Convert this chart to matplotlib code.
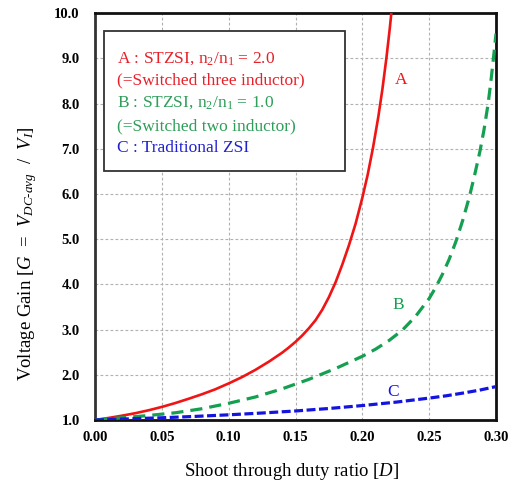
import matplotlib
matplotlib.use("Agg")
import matplotlib.pyplot as plt
from matplotlib.ticker import MultipleLocator, FormatStrFormatter

plt.rcParams['font.family'] = ['Liberation Serif', 'DejaVu Serif']
plt.rcParams['mathtext.fontset'] = 'custom'
plt.rcParams['mathtext.rm'] = 'Liberation Serif'
plt.rcParams['mathtext.it'] = 'Liberation Serif:italic'
plt.rcParams['mathtext.bf'] = 'Liberation Serif:bold'

# values
dA = [0.0, 0.01, 0.02, 0.03, 0.04, 0.05, 0.06, 0.07, 0.08, 0.09, 0.10, 0.11,
      0.12, 0.13, 0.14, 0.145, 0.15, 0.155, 0.16, 0.165, 0.17, 0.175, 0.18,
      0.185, 0.19, 0.195, 0.20, 0.204, 0.208, 0.212, 0.215, 0.218, 0.2205, 0.2222]
gA = [1.0, 1.045, 1.095, 1.15, 1.215, 1.29, 1.375, 1.47, 1.57, 1.68, 1.81, 1.95,
      2.11, 2.29, 2.49, 2.605, 2.73, 2.87, 3.03, 3.21, 3.44, 3.72, 4.05,
      4.44, 4.87, 5.35, 5.92, 6.43, 7.03, 7.72, 8.32, 9.01, 9.66, 10.15]

dB = [0.0, 0.02, 0.04, 0.06, 0.08, 0.10, 0.12, 0.14, 0.16, 0.18, 0.20, 0.21,
      0.22, 0.23, 0.24, 0.25, 0.255, 0.26, 0.265, 0.27, 0.275, 0.28, 0.284,
      0.288, 0.291, 0.294, 0.296, 0.298, 0.30]
gB = [1.0, 1.05, 1.10, 1.16, 1.25, 1.37, 1.51, 1.69, 1.90, 2.14, 2.41, 2.57,
      2.76, 2.99, 3.30, 3.69, 3.94, 4.23, 4.56, 4.95, 5.41, 5.93, 6.42,
      6.95, 7.42, 7.98, 8.45, 8.98, 9.55]

dC = [0.0, 0.025, 0.05, 0.075, 0.10, 0.125, 0.15, 0.175, 0.20, 0.225, 0.25, 0.2625,
      0.275, 0.2875, 0.30]
gC = [1.0, 1.025, 1.05, 1.08, 1.115, 1.155, 1.2, 1.255, 1.32, 1.395, 1.485, 1.535,
      1.595, 1.66, 1.74]

legend_lines = [r"A : STZSI, n$_2$/n$_1$ = 2.0",
                "(=Switched three inductor)",
                r"B : STZSI, n$_2$/n$_1$ = 1.0",
                "(=Switched two inductor)",
                "C : Traditional ZSI"]

red = '#f01414'
green = '#14a050'
blue = '#1414e0'
legend_colors = ['#e8202a', '#e8202a', '#2e9e5a', '#2e9e5a', '#2020d0']

fig = plt.figure(figsize=(5.17, 4.84), dpi=100)
ax = fig.add_axes([0.1838, 0.1322, 0.7756, 0.8403])

ax.plot(dA, gA, color=red, lw=1.9, solid_joinstyle='round', zorder=3)
ax.plot(dB, gB, color=green, lw=2.3, dashes=(3.8, 2.2), zorder=3)
ax.plot(dC, gC, color=blue, lw=2.3, dashes=(2.8, 1.1), zorder=3)

ax.set_xlim(0.0, 0.30)
ax.set_ylim(1.0, 10.0)
ax.xaxis.set_major_locator(MultipleLocator(0.05))
ax.yaxis.set_major_locator(MultipleLocator(1.0))
ax.xaxis.set_major_formatter(FormatStrFormatter('%.2f'))
ax.yaxis.set_major_formatter(FormatStrFormatter('%.1f'))
ax.tick_params(length=0, labelsize=10.5)
ax.tick_params(axis='x', pad=8)
ax.tick_params(axis='y', pad=11)
for lab in ax.get_xticklabels() + ax.get_yticklabels():
    lab.set_fontweight('bold')

ax.grid(True, color='#b0b0b0', lw=0.8, linestyle=(0, (2.5, 2)))
for sp in ax.spines.values():
    sp.set_linewidth(2.0)
    sp.set_color('#111111')
ax.spines['left'].set_color('#333333')

ax.set_xlabel(r"Shoot through duty ratio [$D$]", fontsize=13.5)
ax.set_ylabel(r"Voltage Gain [$G$  =  $V_{DC\text{-}avg}$  /  $V_I$]", fontsize=13.5)
ax.xaxis.set_label_coords(0.49, -0.10)
ax.yaxis.set_label_coords(-0.14, 0.41)

# curve labels
ax.text(0.2287, 8.52, "A", color=red, fontsize=12.5, ha='center', va='center')
ax.text(0.2265, 3.54, "B", color=green, fontsize=12.5, ha='center', va='center')
ax.text(0.2227, 1.62, "C", color=blue, fontsize=12.5, ha='center', va='center')

# legend-like box
box = plt.Rectangle((0.0224, 0.6121), 0.6011, 0.3448, transform=ax.transAxes,
                    facecolor='white', edgecolor='#333333', lw=1.3, zorder=4)
ax.add_patch(box)
ys = [0.889, 0.834, 0.780, 0.723, 0.669]
for txt, col, yy in zip(legend_lines, legend_colors, ys):
    ax.text(0.054, yy, txt, color=col, fontsize=12.5, transform=ax.transAxes,
            va='center', ha='left', zorder=5)

fig.savefig("out.png", dpi=100)
